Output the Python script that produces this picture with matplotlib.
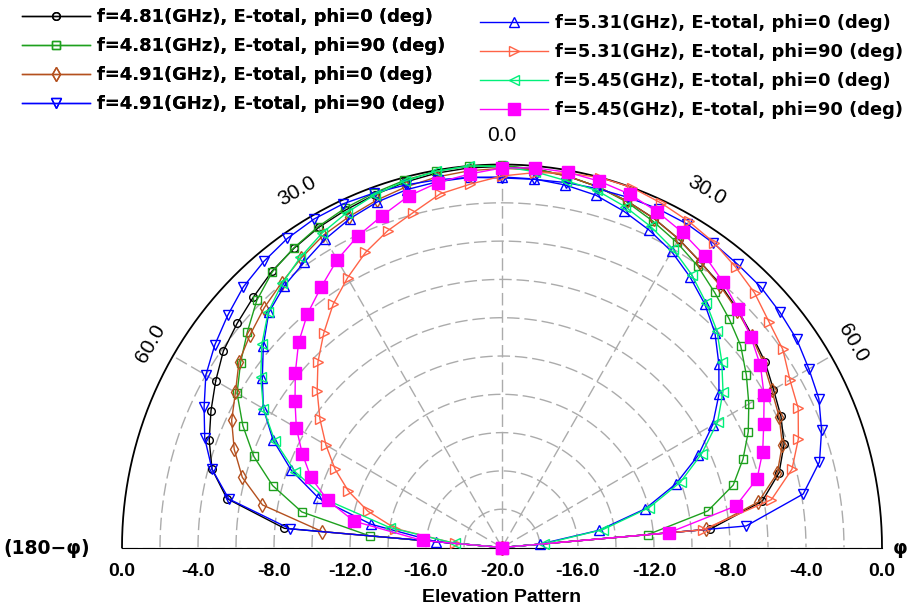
import numpy as np
import matplotlib
matplotlib.use('Agg')
import matplotlib.pyplot as plt

# ---------------- data (dB) -----------------
theta_deg = list(range(-90, 91, 5))

f481_phi0 = [-20, -8.5, -5.3, -4.2, -3.6, -3.1, -2.6, -2.1, -1.8, -1.5, -1.17, -0.92, -0.7, -0.55, -0.4, -0.25,
             -0.15, -0.1, -0.1, -0.15, -0.3, -0.5, -0.75, -1.05, -1.4, -1.8, -2.1, -2.45, -2.8, -3.1, -3.5, -3.8,
             -4.2, -4.9, -6.1, -9.0, -20]
f481_phi90 = [-20, -13.0, -9.3, -7.5, -6.1, -4.95, -3.9, -3.2, -2.5, -1.75, -1.2, -0.9, -0.65, -0.45, -0.3, -0.15,
              -0.05, 0.0, -0.05, -0.15, -0.3, -0.5, -0.8, -1.2, -1.6, -2.05, -2.6, -3.1, -3.6, -4.3, -5.0, -5.7,
              -6.5, -7.4, -9.0, -12.3, -20]
f491_phi0 = [-20, -10.5, -7.2, -5.85, -5.0, -4.3, -3.8, -3.1, -2.7, -2.3, -1.95, -1.56, -1.18, -0.94, -0.7, -0.5,
             -0.35, -0.25, -0.2, -0.2, -0.3, -0.5, -0.75, -1.05, -1.4, -1.8, -2.15, -2.5, -2.85, -3.2, -3.6, -3.9,
             -4.3, -5.0, -6.3, -9.2, -20]
f491_phi90 = [-20, -8.8, -5.4, -4.2, -3.35, -2.7, -2.0, -1.55, -1.15, -0.75, -0.5, -0.3, -0.2, -0.2, -0.3, -0.4,
              -0.5, -0.6, -0.7, -0.7, -0.65, -0.6, -0.55, -0.5, -0.5, -0.6, -0.7, -0.75, -0.9, -1.06, -1.35, -1.6,
              -2.1, -2.7, -3.9, -7.1, -20]
f531_phi0 = [-20, -16.5, -13.0, -10.0, -8.2, -6.7, -5.5, -4.6, -3.6, -2.64, -2.17, -1.83, -1.4, -1.05, -0.8, -0.65,
             -0.6, -0.6, -0.65, -0.68, -0.78, -0.95, -1.3, -1.7, -2.15, -2.75, -3.4, -4.15, -5.1, -6.06, -7.2, -8.6,
             -10.25, -12.2, -14.8, -18.0, -20]
f531_phi90 = [-20, -17.5, -14.3, -12.7, -11.4, -10.3, -9.3, -8.3, -7.3, -6.3, -5.4, -4.5, -3.74, -3.0, -2.4, -1.9,
              -1.25, -0.95, -0.6, -0.35, -0.15, 0.0, 0.0, -0.16, -0.34, -0.56, -0.88, -1.2, -1.66, -1.96, -2.5, -2.8,
              -3.4, -4.2, -5.6, -9.4, -20]
f545_phi0 = [-20, -17.5, -14.0, -10.5, -8.4, -6.8, -5.5, -4.5, -3.5, -2.6, -2.0, -1.5, -1.05, -0.7, -0.4, -0.2,
             -0.05, 0.0, -0.1, -0.3, -0.55, -0.7, -1.06, -1.5, -2.0, -2.6, -3.3, -4.0, -4.9, -5.8, -6.9, -8.4,
             -10.0, -12.0, -14.6, -17.8, -20]
f545_phi90 = [-20, -15.8, -12.1, -10.5, -9.3, -8.4, -7.5, -6.7, -5.8, -4.86, -4.07, -3.4, -2.65, -2.05, -1.56, -1.0,
              -0.65, -0.42, -0.18, -0.1, -0.1, -0.2, -0.36, -0.66, -1.0, -1.4, -1.9, -2.4, -2.9, -3.4, -4.07, -4.8,
              -5.4, -6.1, -7.5, -11.2, -20]

labels = ["f=4.81(GHz), E-total, phi=0 (deg)",
          "f=4.81(GHz), E-total, phi=90 (deg)",
          "f=4.91(GHz), E-total, phi=0 (deg)",
          "f=4.91(GHz), E-total, phi=90 (deg)",
          "f=5.31(GHz), E-total, phi=0 (deg)",
          "f=5.31(GHz), E-total, phi=90 (deg)",
          "f=5.45(GHz), E-total, phi=0 (deg)",
          "f=5.45(GHz), E-total, phi=90 (deg)"]
series = [f481_phi0, f481_phi90, f491_phi0, f491_phi90, f531_phi0, f531_phi90, f545_phi0, f545_phi90]

r_ticks = [0, -4, -8, -12, -16, -20]
angle_labels = [0, 30, 60]

# ---------------- styles -----------------
colors = ['#000000', '#1EA01E', '#B4501E', '#0000FF', '#0000FF', '#FF6347', '#00F07A', '#FF00FF']
markers = ['o', 's', 'd', 'v', '^', '>', '<', 's']
msizes = [5.5, 5.5, 7, 6.5, 6.5, 6.5, 6.5, 8.5]
filled = [False, False, False, False, False, False, False, True]

W, H = 909, 613
cx, cy, Rx, Ry = 502, 547.5, 380, 383
fig = plt.figure(figsize=(W / 100, H / 100), dpi=100)
# with aspect 'auto' the half-wedge spans the full box width and half the box height, centred vertically
ax = fig.add_axes([(cx - Rx) / W, 1 - (cy + 0.5 * Ry) / H, 2 * Rx / W, 2 * Ry / H], projection='polar')
ax.set_theta_zero_location('N')
ax.set_theta_direction(-1)
ax.set_thetamin(-90)
ax.set_thetamax(90)
ax.set_rlim(-20, 0)
ax.set_aspect('auto')
ax.grid(False)
ax.set_xticks([])
ax.set_yticks([])
for s in ax.spines.values():
    s.set_visible(False)

grid_c = '#ABABAB'
dash = (0, (9, 3.5))
tt = np.radians(np.linspace(-90, 90, 721))
for rv in range(-18, 0, 2):
    ax.plot(tt, np.full_like(tt, rv), color=grid_c, lw=1.0, ls=dash, zorder=1)
for a in range(-90, 91, 30):
    ax.plot([np.radians(a)] * 2, [-20, 0], color=grid_c, lw=1.0, ls=dash, zorder=1)
ax.plot(tt, np.zeros_like(tt), color='black', lw=1.3, zorder=2, clip_on=False)

th = np.radians(theta_deg)
handles = []
for vals, c, m, ms, fl, lab in zip(series, colors, markers, msizes, filled, labels):
    h, = ax.plot(th, vals, color=c, lw=1.0, marker=m, ms=ms, mfc=(c if fl else 'none'),
                 mec=c, mew=1.0, label=lab, zorder=3, clip_on=False)
    handles.append(h)

# angle labels outside the rim
lab_font = dict(family=['Liberation Sans', 'DejaVu Sans'], size=15)
for a in angle_labels:
    d = 21 if a < 60 else 18.5  # points
    for sgn in ((1,) if a == 0 else (-1, 1)):
        ang = np.radians(sgn * a)
        ax.annotate(f'{a:.1f}', xy=(ang, 0), xytext=(d * np.sin(ang), d * np.cos(ang)),
                    textcoords='offset points', ha='center', va='center',
                    rotation=-sgn * a, rotation_mode='anchor', annotation_clip=False, **lab_font)

# radial tick labels along the baseline
tick_font = dict(family=['Liberation Sans', 'DejaVu Sans'], size=14, weight='bold')
for rv in r_ticks:
    for sgn in ((-1, 1) if rv != -20 else (1,)):
        ax.annotate(f'{rv:.1f}', xy=(sgn * np.pi / 2, rv), xytext=(0, -17.5), textcoords='offset points',
                    ha='center', va='center', annotation_clip=False, **tick_font)

fig.text(3 / W, 1 - 549 / H, '(180\u2212\u03c6)', ha='left', va='center',
         family=['DejaVu Sans'], size=13.5, weight='bold')
fig.text(908 / W, 1 - 549 / H, '\u03c6', ha='right', va='center',
         family=['DejaVu Sans'], size=13.5, weight='bold')
fig.text(502 / W, 1 - 598 / H, 'Elevation Pattern', ha='center', va='center',
         family=['Liberation Sans', 'DejaVu Sans'], size=14, weight='bold')

leg_prop = dict(family=['DejaVu Sans'], weight='bold', size=12.9)
common = dict(loc='upper left', frameon=False, prop=leg_prop, handlelength=3.8, handletextpad=0.4,
              labelspacing=0.62, borderaxespad=0, borderpad=0.0)
leg1 = fig.legend(handles[:4], labels[:4], bbox_to_anchor=(22 / W, 1 - 8 / H), **common)
leg2 = fig.legend(handles[4:], labels[4:], bbox_to_anchor=(480 / W, 1 - 14 / H), **common)
fig.add_artist(leg1)

fig.savefig('out.png', dpi=100)
